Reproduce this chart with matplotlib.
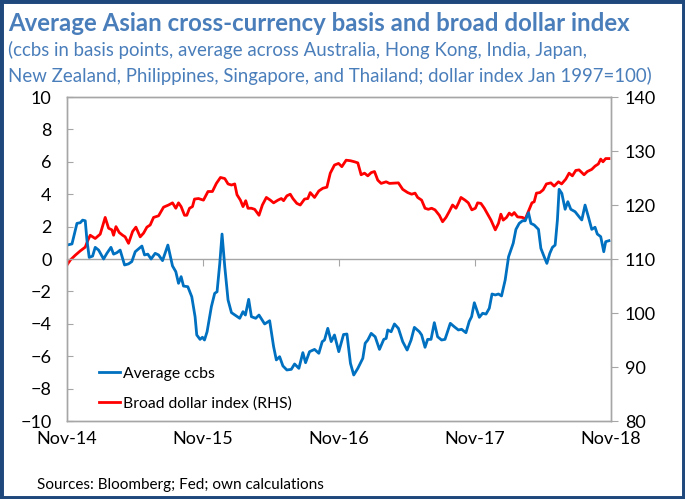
import matplotlib
matplotlib.use('Agg')
import matplotlib.pyplot as plt
from matplotlib.patches import Rectangle
from matplotlib.lines import Line2D

plt.rcParams['font.family'] = ['Lato', 'DejaVu Sans']

# months since Nov 2014
ccbs_month = [0.0, 0.44, 0.88, 1.17, 1.38, 1.61, 1.76, 1.96, 2.26, 2.49,
              2.79, 3.23, 3.52, 3.88, 4.11, 4.40, 4.69, 5.08, 5.43, 5.72,
              6.02, 6.61, 6.84, 7.13, 7.42, 7.78, 8.08, 8.43, 8.90, 9.31,
              9.60, 9.84, 10.07, 10.28, 10.66, 11.01, 11.30, 11.45, 11.74, 11.95,
              12.13, 12.36, 12.74, 13.03, 13.24, 13.48, 13.68, 13.92, 14.21, 14.51,
              15.24, 15.53, 15.74, 16.03, 16.27, 16.65, 16.94, 17.44, 17.88, 18.23,
              18.47, 18.76, 19.05, 19.40, 19.79, 20.08, 20.46, 20.81, 21.05, 21.40,
              21.84, 22.22, 22.52, 22.72, 23.01, 23.31, 23.60, 23.98, 24.40, 24.70,
              25.01, 25.30, 25.66, 26.10, 26.31, 26.54, 26.84, 27.19, 27.57, 27.95,
              28.16, 28.30, 28.60, 28.89, 29.24, 29.62, 30.01, 30.36, 30.65, 31.09,
              31.29, 31.59, 31.82, 32.12, 32.41, 32.70, 33.05, 33.35, 33.82, 34.17,
              34.53, 34.82, 35.20, 35.49, 35.70, 35.94, 36.38, 36.67, 36.97, 37.26,
              37.50, 37.79, 38.07, 38.34, 38.66, 38.96, 39.17, 39.37, 39.61, 39.90,
              40.19, 40.43, 40.72, 40.93, 41.22, 41.60, 41.81, 42.10, 42.34, 42.60,
              42.83, 43.07, 43.27, 43.42, 43.66, 43.95, 44.19, 44.45, 44.83, 45.18,
              45.42, 45.71, 46.00, 46.30, 46.59, 46.79, 47.09, 47.36, 47.53, 47.82]
ccbs = [0.86, 0.93, 2.2, 2.24, 2.4, 2.36, 1.17, 0.1, 0.18, 0.72,
        0.55, 0.0, 0.35, 0.72, 0.3, 0.39, 0.55, -0.37, -0.3, -0.16,
        0.45, 0.8, 0.25, 0.3, 0.0, 0.35, 0.25, -0.1, 0.86, -0.43,
        -0.78, -1.5, -1.09, -1.67, -1.71, -2.33, -3.56, -4.69, -4.96, -4.83,
        -5.0, -4.49, -2.94, -2.12, -2.02, -0.27, 1.54, -0.47, -2.53, -3.31,
        -3.66, -3.25, -3.46, -2.49, -3.56, -3.66, -3.46, -4.01, -3.81, -5.41,
        -6.23, -6.03, -6.6, -6.85, -6.81, -6.48, -6.75, -5.78, -6.4, -5.72,
        -5.58, -5.82, -5.1, -5.0, -4.28, -5.1, -4.69, -5.72, -4.66, -4.63,
        -6.44, -7.16, -6.75, -6.13, -5.2, -5.0, -4.59, -4.8, -5.58, -4.96,
        -4.9, -4.38, -4.49, -4.01, -4.28, -5.1, -5.62, -5.0, -4.22, -4.49,
        -4.69, -5.45, -4.96, -4.96, -3.93, -4.8, -5.0, -4.96, -3.97, -4.18,
        -4.38, -4.34, -4.55, -3.85, -3.56, -2.7, -3.6, -3.35, -3.4, -3.04,
        -2.16, -2.22, -2.16, -2.28, -1.3, 0.14, 0.56, 0.97, 1.83, 2.2,
        2.36, 2.36, 2.86, 2.2, 2.1, 1.83, 0.66, 0.14, -0.27, 0.35,
        0.72, 0.86, 2.41, 4.3, 4.05, 3.07, 3.54, 3.07, 2.92, 2.61,
        2.41, 3.33, 2.61, 1.83, 1.96, 1.54, 1.38, 0.45, 1.07, 1.13]

usd_month = [0.0, 0.29, 0.73, 1.17, 1.61, 1.85, 2.05, 2.49, 2.93, 3.37,
             3.67, 3.96, 4.11, 4.32, 4.61, 4.91, 5.13, 5.43, 5.79, 6.08,
             6.46, 6.76, 7.05, 7.34, 7.64, 8.08, 8.52, 8.96, 9.31, 9.60,
             9.84, 10.07, 10.37, 10.57, 10.81, 11.07, 11.25, 11.60, 12.04, 12.44,
             12.83, 13.18, 13.54, 13.92, 14.21, 14.51, 14.80, 15.00, 15.30, 15.53,
             15.77, 15.97, 16.27, 16.56, 16.94, 17.24, 17.59, 17.94, 18.23, 18.61,
             18.91, 19.11, 19.40, 19.70, 19.93, 20.28, 20.58, 20.96, 21.25, 21.46,
             21.84, 22.22, 22.57, 22.93, 23.23, 23.60, 23.96, 24.25, 24.63, 25.01,
             25.37, 25.66, 25.95, 26.25, 26.54, 26.84, 27.13, 27.42, 27.72, 28.16,
             28.45, 29.24, 29.62, 30.06, 30.41, 30.71, 30.94, 31.29, 31.59, 31.88,
             32.17, 32.47, 32.85, 33.14, 33.44, 33.73, 34.02, 34.32, 34.53, 34.76,
             35.12, 35.41, 35.72, 36.03, 36.23, 36.52, 36.82, 37.11, 37.41, 37.79,
             38.07, 38.28, 38.49, 38.78, 39.02, 39.25, 39.46, 39.75, 40.19, 40.43,
             40.72, 41.02, 41.22, 41.42, 41.72, 42.01, 42.30, 42.69, 42.98, 43.36,
             43.64, 44.01, 44.30, 44.59, 44.89, 45.18, 45.62, 45.91, 46.30, 46.59,
             46.88, 47.09, 47.29, 47.53, 47.82]
usd = [108.9, 109.8, 110.7, 111.5, 112.2, 113.5, 114.4, 113.8, 114.6, 117.7,
       115.7, 115.4, 114.4, 116.0, 114.9, 114.4, 114.1, 112.9, 115.1, 115.9,
       114.1, 114.8, 115.9, 116.3, 117.7, 118.0, 119.6, 120.0, 120.4, 119.4,
       120.4, 119.7, 118.1, 118.1, 119.4, 119.7, 121.1, 121.2, 120.9, 122.5,
       122.5, 124.0, 125.1, 124.9, 123.9, 123.7, 123.9, 121.9, 120.9, 119.7,
       120.8, 119.4, 119.4, 119.2, 118.1, 120.0, 121.4, 120.9, 120.4, 120.9,
       121.2, 120.8, 121.7, 122.0, 121.2, 120.3, 120.0, 121.1, 121.2, 122.3,
       121.4, 122.6, 123.1, 123.3, 125.9, 127.4, 127.7, 127.1, 128.3, 128.2,
       128.0, 127.8, 125.6, 125.9, 125.4, 126.0, 126.2, 124.6, 124.0, 124.3,
       124.0, 124.1, 122.9, 122.3, 122.0, 122.2, 121.4, 120.9, 119.4, 119.2,
       119.4, 119.1, 118.1, 116.9, 117.7, 118.8, 120.0, 119.4, 120.3, 121.4,
       120.9, 120.4, 119.1, 119.4, 120.4, 120.3, 119.4, 118.3, 117.2, 115.4,
       116.6, 118.3, 117.2, 117.7, 118.5, 118.1, 118.6, 117.8, 117.7, 117.4,
       118.9, 120.4, 120.6, 122.2, 122.3, 122.8, 123.9, 124.1, 123.5, 124.3,
       123.9, 124.8, 125.9, 125.4, 126.4, 126.5, 125.6, 126.2, 126.6, 127.2,
       127.6, 128.5, 128.0, 128.6, 128.6]

tick_months = [0, 12, 24, 36, 48]
tick_labels = ['Nov-14', 'Nov-15', 'Nov-16', 'Nov-17', 'Nov-18']

BLUE = '#0070C0'
RED = '#FF0000'
TITLE_C = '#4A7EBB'
GRAY = '#A6A6A6'

fig = plt.figure(figsize=(6.85, 4.99), dpi=100)
ax = fig.add_axes([0.0978, 0.1563, 0.7942, 0.6493])
ax2 = ax.twinx()

ax2.plot(usd_month, usd, color=RED, lw=2)
ax.plot(ccbs_month, ccbs, color=BLUE, lw=2)
ax.set_zorder(ax2.get_zorder() + 1)
ax.patch.set_visible(False)

ax.set_xlim(0, 48)
ax.set_ylim(-10, 10)
ax.set_yticks(range(-10, 11, 2))
ax2.set_ylim(80, 140)
ax2.set_yticks(range(80, 141, 10))
ax.set_xticks(tick_months)
ax.set_xticklabels(tick_labels)

for a in (ax, ax2):
    for s in a.spines.values():
        s.set_color(GRAY)
        s.set_linewidth(1)

ax.tick_params(axis='x', length=0, pad=7, labelsize=13)
ax.tick_params(axis='y', direction='in', length=4, color=GRAY, pad=11, labelsize=13)
ax2.tick_params(axis='y', direction='out', length=5, color=GRAY, pad=5, labelsize=13)

# zero line with year ticks
zero = ax.secondary_xaxis(0.5)
zero.set_xticks(tick_months)
zero.set_xticklabels([])
zero.tick_params(direction='in', length=5, color=GRAY,
                 labelbottom=False, labeltop=False)
for s in zero.spines.values():
    s.set_color(GRAY)
    s.set_linewidth(1)

handles = [Line2D([], [], color=BLUE, lw=2), Line2D([], [], color=RED, lw=2)]
ax.legend(handles, ['Average ccbs', 'Broad dollar index (RHS)'], loc='upper left',
          bbox_to_anchor=(0.059, 0.168), frameon=False, fontsize=11.3,
          handlelength=1.35, handletextpad=0.15, labelspacing=1.0,
          borderpad=0, borderaxespad=0)

fig.text(0.012, 0.953, 'Average Asian cross-currency basis and broad dollar index',
         fontsize=17.3, fontweight='bold', color=TITLE_C, va='center')
fig.text(0.012, 0.899, '(ccbs in basis points, average across Australia, Hong Kong, India, Japan,',
         fontsize=13.4, color=TITLE_C, va='center')
fig.text(0.012, 0.848, 'New Zealand, Philippines, Singapore, and Thailand; dollar index Jan 1997=100)',
         fontsize=13.4, color=TITLE_C, va='center')
fig.text(0.054, 0.028, 'Sources: Bloomberg; Fed; own calculations', fontsize=11.0, va='center')

fig.add_artist(Rectangle((0, 0), 1, 1, transform=fig.transFigure, fill=False,
                         edgecolor='#1F497D', lw=5))

fig.savefig('out.png', dpi=100)
